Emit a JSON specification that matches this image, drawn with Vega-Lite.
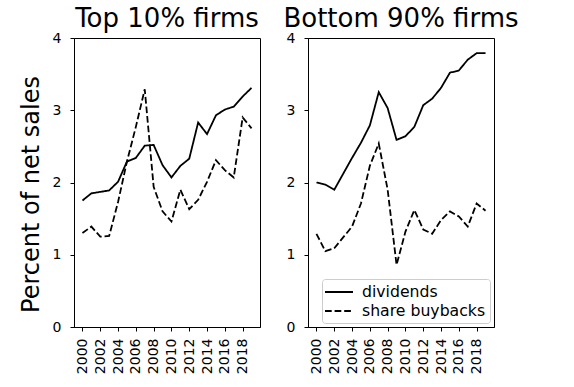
{
  "$schema": "https://vega.github.io/schema/vega-lite/v6.json",
  "padding": {"left": 18, "top": 5, "right": 5, "bottom": 5},
  "background": "white",
  "config": {
    "font": "DejaVu Sans",
    "view": {"stroke": "black", "strokeWidth": 1},
    "axis": {"grid": false, "domainColor": "black", "tickColor": "black", "labelColor": "black", "labelFontSize": 14, "tickSize": 4, "labelFont": "DejaVu Sans", "titleFont": "DejaVu Sans", "titleColor": "black", "titleFontWeight": "normal", "labelFlush": false},
    "title": {"fontSize": 26, "fontWeight": "normal", "font": "DejaVu Sans", "color": "black", "offset": -1},
    "legend": {"symbolType": "M-1.75,0L1.75,0", "symbolStrokeColor": "black", "symbolFillColor": "transparent", "symbolStrokeWidth": 1.8, "symbolSize": 256, "symbolOffset": 4, "labelFontSize": 15.7, "labelColor": "black", "labelFont": "DejaVu Sans", "strokeColor": "#cccccc", "cornerRadius": 3, "padding": 4, "fillColor": "white", "rowPadding": 2, "labelOffset": 14}
  },
  "data": {"values": [
    {"panel":"top","series":"dividends","year":2000,"value":1.75},
    {"panel":"top","series":"dividends","year":2001,"value":1.85},
    {"panel":"top","series":"dividends","year":2002,"value":1.87},
    {"panel":"top","series":"dividends","year":2003,"value":1.89},
    {"panel":"top","series":"dividends","year":2004,"value":2.01},
    {"panel":"top","series":"dividends","year":2005,"value":2.29},
    {"panel":"top","series":"dividends","year":2006,"value":2.34},
    {"panel":"top","series":"dividends","year":2007,"value":2.51},
    {"panel":"top","series":"dividends","year":2008,"value":2.52},
    {"panel":"top","series":"dividends","year":2009,"value":2.24},
    {"panel":"top","series":"dividends","year":2010,"value":2.07},
    {"panel":"top","series":"dividends","year":2011,"value":2.23},
    {"panel":"top","series":"dividends","year":2012,"value":2.33},
    {"panel":"top","series":"dividends","year":2013,"value":2.83},
    {"panel":"top","series":"dividends","year":2014,"value":2.67},
    {"panel":"top","series":"dividends","year":2015,"value":2.93},
    {"panel":"top","series":"dividends","year":2016,"value":3.01},
    {"panel":"top","series":"dividends","year":2017,"value":3.05},
    {"panel":"top","series":"dividends","year":2018,"value":3.19},
    {"panel":"top","series":"dividends","year":2019,"value":3.31},
    {"panel":"top","series":"share buybacks","year":2000,"value":1.30},
    {"panel":"top","series":"share buybacks","year":2001,"value":1.39},
    {"panel":"top","series":"share buybacks","year":2002,"value":1.25},
    {"panel":"top","series":"share buybacks","year":2003,"value":1.26},
    {"panel":"top","series":"share buybacks","year":2004,"value":1.73},
    {"panel":"top","series":"share buybacks","year":2005,"value":2.29},
    {"panel":"top","series":"share buybacks","year":2006,"value":2.77},
    {"panel":"top","series":"share buybacks","year":2007,"value":3.29},
    {"panel":"top","series":"share buybacks","year":2008,"value":1.94},
    {"panel":"top","series":"share buybacks","year":2009,"value":1.60},
    {"panel":"top","series":"share buybacks","year":2010,"value":1.46},
    {"panel":"top","series":"share buybacks","year":2011,"value":1.90},
    {"panel":"top","series":"share buybacks","year":2012,"value":1.63},
    {"panel":"top","series":"share buybacks","year":2013,"value":1.76},
    {"panel":"top","series":"share buybacks","year":2014,"value":2.01},
    {"panel":"top","series":"share buybacks","year":2015,"value":2.31},
    {"panel":"top","series":"share buybacks","year":2016,"value":2.17},
    {"panel":"top","series":"share buybacks","year":2017,"value":2.07},
    {"panel":"top","series":"share buybacks","year":2018,"value":2.90},
    {"panel":"top","series":"share buybacks","year":2019,"value":2.75},
    {"panel":"bottom","series":"dividends","year":2000,"value":2.00},
    {"panel":"bottom","series":"dividends","year":2001,"value":1.97},
    {"panel":"bottom","series":"dividends","year":2002,"value":1.90},
    {"panel":"bottom","series":"dividends","year":2003,"value":2.12},
    {"panel":"bottom","series":"dividends","year":2004,"value":2.34},
    {"panel":"bottom","series":"dividends","year":2005,"value":2.55},
    {"panel":"bottom","series":"dividends","year":2006,"value":2.79},
    {"panel":"bottom","series":"dividends","year":2007,"value":3.25},
    {"panel":"bottom","series":"dividends","year":2008,"value":3.03},
    {"panel":"bottom","series":"dividends","year":2009,"value":2.59},
    {"panel":"bottom","series":"dividends","year":2010,"value":2.64},
    {"panel":"bottom","series":"dividends","year":2011,"value":2.77},
    {"panel":"bottom","series":"dividends","year":2012,"value":3.07},
    {"panel":"bottom","series":"dividends","year":2013,"value":3.16},
    {"panel":"bottom","series":"dividends","year":2014,"value":3.31},
    {"panel":"bottom","series":"dividends","year":2015,"value":3.52},
    {"panel":"bottom","series":"dividends","year":2016,"value":3.55},
    {"panel":"bottom","series":"dividends","year":2017,"value":3.70},
    {"panel":"bottom","series":"dividends","year":2018,"value":3.79},
    {"panel":"bottom","series":"dividends","year":2019,"value":3.79},
    {"panel":"bottom","series":"share buybacks","year":2000,"value":1.29},
    {"panel":"bottom","series":"share buybacks","year":2001,"value":1.05},
    {"panel":"bottom","series":"share buybacks","year":2002,"value":1.09},
    {"panel":"bottom","series":"share buybacks","year":2003,"value":1.24},
    {"panel":"bottom","series":"share buybacks","year":2004,"value":1.39},
    {"panel":"bottom","series":"share buybacks","year":2005,"value":1.71},
    {"panel":"bottom","series":"share buybacks","year":2006,"value":2.23},
    {"panel":"bottom","series":"share buybacks","year":2007,"value":2.54},
    {"panel":"bottom","series":"share buybacks","year":2008,"value":1.90},
    {"panel":"bottom","series":"share buybacks","year":2009,"value":0.86},
    {"panel":"bottom","series":"share buybacks","year":2010,"value":1.32},
    {"panel":"bottom","series":"share buybacks","year":2011,"value":1.62},
    {"panel":"bottom","series":"share buybacks","year":2012,"value":1.35},
    {"panel":"bottom","series":"share buybacks","year":2013,"value":1.29},
    {"panel":"bottom","series":"share buybacks","year":2014,"value":1.48},
    {"panel":"bottom","series":"share buybacks","year":2015,"value":1.60},
    {"panel":"bottom","series":"share buybacks","year":2016,"value":1.53},
    {"panel":"bottom","series":"share buybacks","year":2017,"value":1.39},
    {"panel":"bottom","series":"share buybacks","year":2018,"value":1.71},
    {"panel":"bottom","series":"share buybacks","year":2019,"value":1.61}
  ]},
  "spacing": 48,
  "bounds": "flush",
  "resolve": {"scale": {"strokeDash": "independent"}, "legend": {"strokeDash": "independent"}},
  "hconcat": [
    {
      "title": "Top 10% firms",
      "width": 186,
      "height": 289,
      "transform": [{"filter": "datum.panel === 'top'"}],
      "mark": {"type": "line", "color": "black", "strokeWidth": 1.8},
      "encoding": {
        "x": {"field": "year", "type": "quantitative", "scale": {"domain": [1999.05, 2019.95], "nice": false, "zero": false},
              "axis": {"values": [2000,2002,2004,2006,2008,2010,2012,2014,2016,2018], "format": "d", "labelAngle": 270, "title": null, "labelPadding": 7}},
        "y": {"field": "value", "type": "quantitative", "scale": {"domain": [0, 4], "nice": false},
              "axis": {"values": [0,0.5,1,1.5,2,2.5,3,3.5,4], "format": "d", "labelExpr": "datum.value % 1 === 0 ? datum.label : ''", "title": "Percent of net sales", "titleFontSize": 24, "titleY": 156, "labelPadding": 9, "titlePadding": 9}},
        "strokeDash": {"field": "series", "type": "nominal", "scale": {"domain": ["dividends", "share buybacks"], "range": [[1, 0], [6.7, 2.9]]}, "legend": null}
      }
    },
    {
      "title": "Bottom 90% firms",
      "width": 186,
      "height": 289,
      "transform": [{"filter": "datum.panel === 'bottom'"}],
      "mark": {"type": "line", "color": "black", "strokeWidth": 1.8},
      "encoding": {
        "x": {"field": "year", "type": "quantitative", "scale": {"domain": [1999.05, 2019.95], "nice": false, "zero": false},
              "axis": {"values": [2000,2002,2004,2006,2008,2010,2012,2014,2016,2018], "format": "d", "labelAngle": 270, "title": null, "labelPadding": 7}},
        "y": {"field": "value", "type": "quantitative", "scale": {"domain": [0, 4], "nice": false},
              "axis": {"values": [0,0.5,1,1.5,2,2.5,3,3.5,4], "format": "d", "labelExpr": "datum.value % 1 === 0 ? datum.label : ''", "title": null, "labelPadding": 9}},
        "strokeDash": {"field": "series", "type": "nominal", "scale": {"domain": ["dividends", "share buybacks"], "range": [[1, 0], [6.7, 2.9]]},
                       "legend": {"orient": "bottom-right", "title": null, "offset": 4}}
      }
    }
  ]
}
